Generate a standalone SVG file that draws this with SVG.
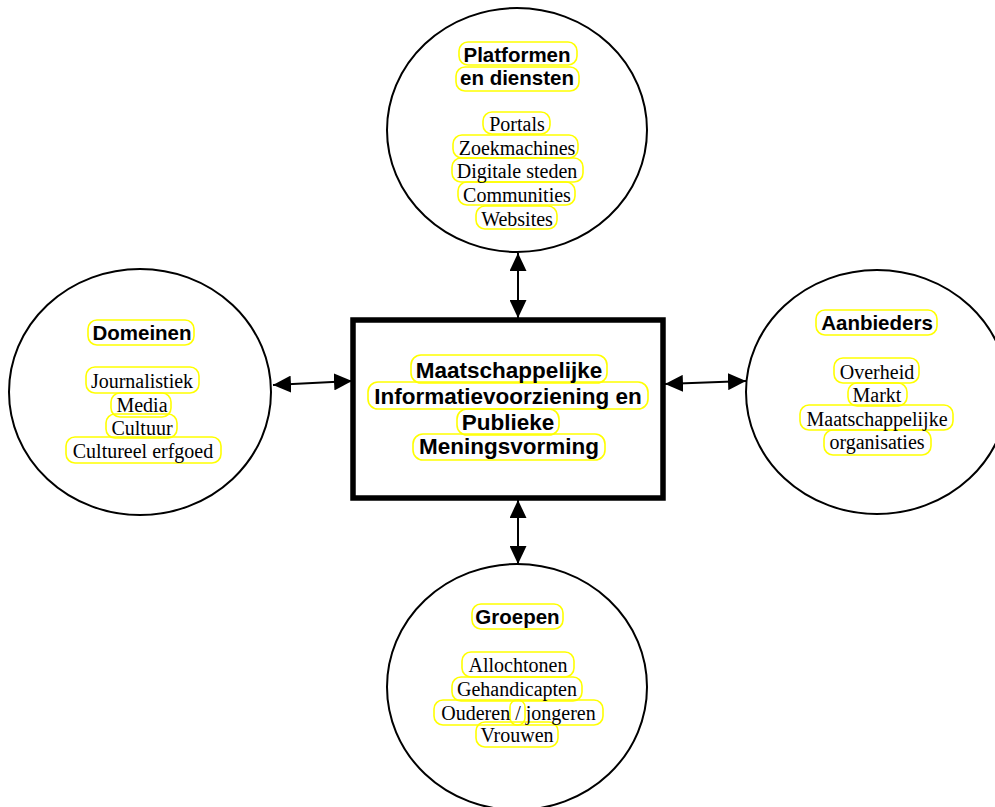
<svg xmlns="http://www.w3.org/2000/svg" width="995" height="807" viewBox="0 0 995 807">
<style>
.c{fill:#fff;stroke:#000;stroke-width:2}
.p{fill:none;stroke:#ffff00;stroke-width:1.6}
.h{font-family:"Liberation Sans",Arial,sans-serif;font-weight:bold;font-size:20.5px;text-anchor:middle;fill:#000}
.m{font-family:"Liberation Sans",Arial,sans-serif;font-weight:bold;font-size:22.5px;text-anchor:middle;fill:#000}
.i{font-family:"Liberation Serif","Times New Roman",serif;font-size:20px;text-anchor:middle;fill:#000}
.a{stroke:#000;stroke-width:2;fill:none}
</style>
<defs>
<marker id="ah" viewBox="0 0 18 17" refX="18" refY="8.5" markerWidth="18" markerHeight="17" markerUnits="userSpaceOnUse" orient="auto-start-reverse">
<path d="M0,0 L18,8.5 L0,17 Z" fill="#000"/>
</marker>
</defs>
<rect width="995" height="807" fill="#fff"/>
<g id="connectors">
<line class="a" x1="518" y1="253" x2="518" y2="318" marker-start="url(#ah)" marker-end="url(#ah)"/>
<line class="a" x1="518" y1="500" x2="518" y2="564" marker-start="url(#ah)" marker-end="url(#ah)"/>
<line class="a" x1="273" y1="385" x2="352" y2="381" marker-start="url(#ah)" marker-end="url(#ah)"/>
<line class="a" x1="665" y1="384" x2="746" y2="381" marker-start="url(#ah)" marker-end="url(#ah)"/>
</g>
<g id="platformen">
<ellipse class="c" cx="517" cy="130" rx="130" ry="122"/>
<rect class="p" x="459" y="42" width="118" height="23" rx="9"/>
<rect class="p" x="456" y="67" width="123" height="24" rx="9"/>
<rect class="p" x="483" y="112" width="67" height="22" rx="9"/>
<rect class="p" x="453" y="135" width="125" height="23" rx="9"/>
<rect class="p" x="452" y="158" width="131" height="24" rx="9"/>
<rect class="p" x="458" y="182" width="117" height="23" rx="9"/>
<rect class="p" x="476" y="206" width="81" height="23" rx="9"/>
<text class="h" x="517" y="62">Platformen</text>
<text class="h" x="517" y="85">en diensten</text>
<text class="i" x="517" y="131">Portals</text>
<text class="i" x="517" y="155">Zoekmachines</text>
<text class="i" x="517" y="178">Digitale steden</text>
<text class="i" x="517" y="202">Communities</text>
<text class="i" x="517" y="226">Websites</text>
</g>
<g id="domeinen">
<ellipse class="c" cx="140" cy="392" rx="131" ry="123"/>
<rect class="p" x="88" y="320" width="106" height="25" rx="9"/>
<rect class="p" x="86" y="367" width="113" height="26" rx="9"/>
<rect class="p" x="111" y="393" width="60" height="24" rx="9"/>
<rect class="p" x="106" y="414" width="71" height="24" rx="9"/>
<rect class="p" x="66" y="437" width="155" height="26" rx="9"/>
<text class="h" x="142" y="340">Domeinen</text>
<text class="i" x="142" y="388">Journalistiek</text>
<text class="i" x="142" y="412">Media</text>
<text class="i" x="142" y="435">Cultuur</text>
<text class="i" x="143" y="458">Cultureel erfgoed</text>
</g>
<g id="aanbieders">
<ellipse class="c" cx="877" cy="392" rx="131" ry="122"/>
<rect class="p" x="816" y="310" width="121" height="25" rx="9"/>
<rect class="p" x="834" y="358" width="85" height="25" rx="9"/>
<rect class="p" x="848" y="383" width="59" height="23" rx="9"/>
<rect class="p" x="800" y="405" width="153" height="25" rx="9"/>
<rect class="p" x="824" y="430" width="107" height="25" rx="9"/>
<text class="h" x="877" y="330">Aanbieders</text>
<text class="i" x="877" y="379">Overheid</text>
<text class="i" x="877" y="402">Markt</text>
<text class="i" x="877" y="426">Maatschappelijke</text>
<text class="i" x="877" y="449">organisaties</text>
</g>
<g id="groepen">
<ellipse class="c" cx="517" cy="687" rx="130" ry="123"/>
<rect class="p" x="472" y="604" width="91" height="25" rx="9"/>
<rect class="p" x="462" y="652" width="112" height="25" rx="9"/>
<rect class="p" x="452" y="677" width="130" height="24" rx="9"/>
<rect class="p" x="434" y="700" width="169" height="25" rx="9"/>
<rect class="p" x="510" y="700" width="15" height="25" rx="7"/>
<rect class="p" x="476" y="722" width="82" height="25" rx="9"/>
<text class="h" x="517.5" y="624">Groepen</text>
<text class="i" x="518" y="672">Allochtonen</text>
<text class="i" x="517" y="696">Gehandicapten</text>
<text class="i" x="518.5" y="720">Ouderen / jongeren</text>
<text class="i" x="517" y="742">Vrouwen</text>
</g>
<g id="center">
<rect x="353" y="320" width="310" height="178" fill="#fff" stroke="#000" stroke-width="5.5"/>
<rect class="p" x="411" y="355" width="196" height="28" rx="10"/>
<rect class="p" x="368" y="382" width="280" height="27" rx="10"/>
<rect class="p" x="457" y="409" width="102" height="26" rx="10"/>
<rect class="p" x="413" y="434" width="192" height="26" rx="10"/>
<text class="m" x="509" y="378">Maatschappelijke</text>
<text class="m" x="508" y="404">Informatievoorziening en</text>
<text class="m" x="508" y="430">Publieke</text>
<text class="m" x="509" y="454">Meningsvorming</text>
</g>
</svg>
